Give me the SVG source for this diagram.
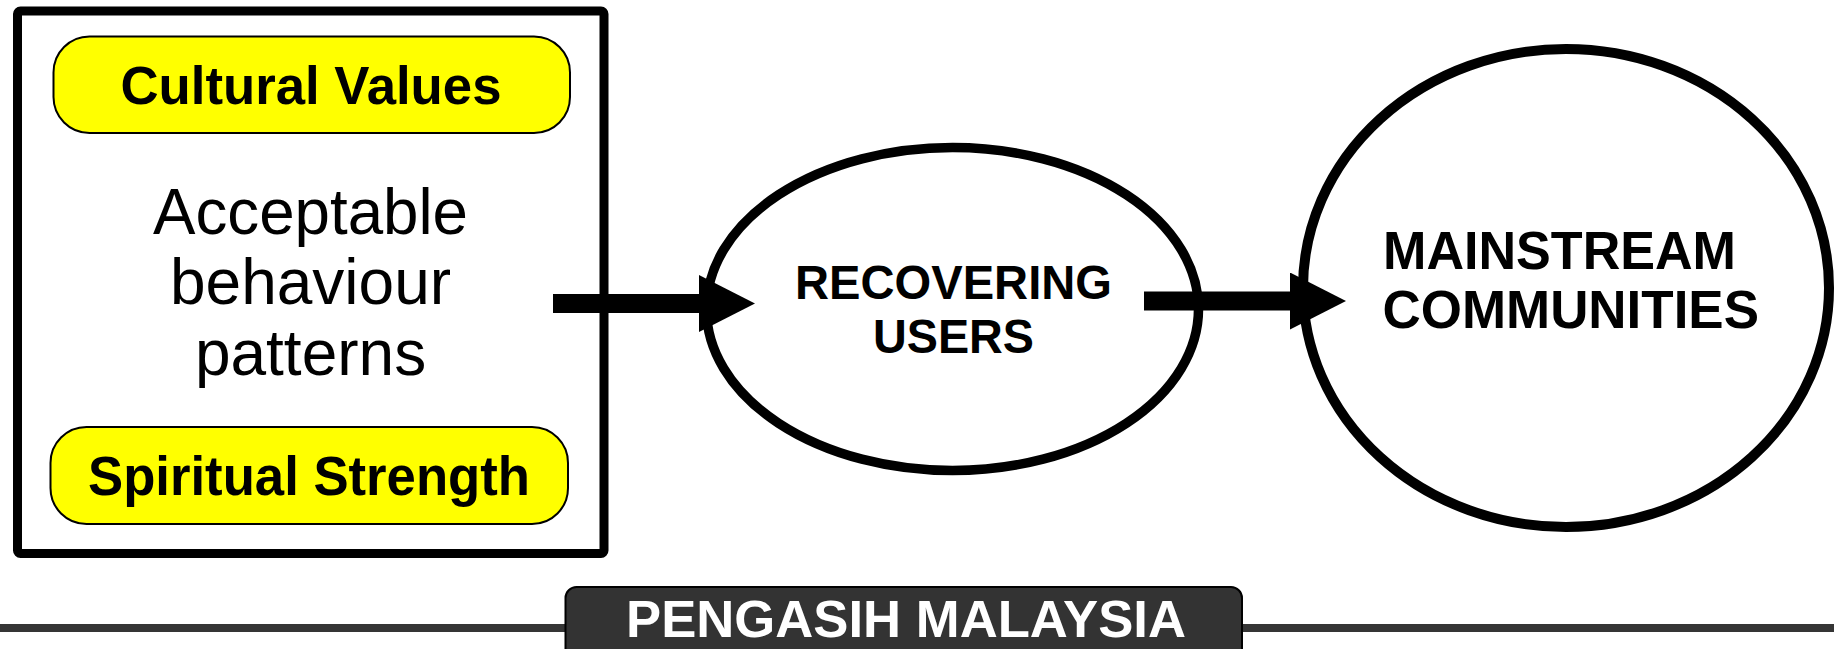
<svg xmlns="http://www.w3.org/2000/svg" width="1834" height="649" viewBox="0 0 1834 649">
<style>
  .t { font-family: "Liberation Sans", Arial, sans-serif; fill: #000; text-anchor: middle; }
  .b { font-weight: bold; }
  .pill { fill: #FFFF00; stroke: #000; stroke-width: 2; }
  .oval { fill: #fff; stroke: #000; stroke-width: 9.5; }
  .conn { stroke: #000; stroke-width: 19; fill: none; }
</style>
<defs>
  <marker id="head" markerUnits="userSpaceOnUse" viewBox="0 0 56 57" markerWidth="56" markerHeight="57" refX="0" refY="28.5" orient="auto">
    <path d="M0,0 L56,28.5 L0,57 Z" fill="#000"/>
  </marker>
</defs>
<rect width="1834" height="649" fill="#fff"/>

<g id="values-box">
  <rect x="17.5" y="11" width="586.5" height="542.5" rx="3" fill="#fff" stroke="#000" stroke-width="9"/>
</g>
<g id="cultural-values">
  <rect class="pill" x="53.5" y="36.5" width="516.5" height="96.5" rx="36"/>
  <text class="t b" x="311" y="104" font-size="54" textLength="381" lengthAdjust="spacingAndGlyphs">Cultural Values</text>
</g>
<g id="acceptable-behaviour">
  <text class="t" x="310.5" y="234" font-size="64" textLength="315" lengthAdjust="spacingAndGlyphs">Acceptable</text>
  <text class="t" x="310.5" y="304" font-size="64">behaviour</text>
  <text class="t" x="310.5" y="374.5" font-size="64">patterns</text>
</g>
<g id="spiritual-strength">
  <rect class="pill" x="50.5" y="427" width="517.5" height="97" rx="36"/>
  <text class="t b" x="309" y="495" font-size="55" textLength="442" lengthAdjust="spacingAndGlyphs">Spiritual Strength</text>
</g>

<g id="recovering-users">
  <ellipse class="oval" cx="952.5" cy="309" rx="246" ry="161.5"/>
  <text class="t b" x="953.5" y="299" font-size="48.5" textLength="317" lengthAdjust="spacingAndGlyphs">RECOVERING</text>
  <text class="t b" x="953.5" y="353" font-size="48.5" textLength="161" lengthAdjust="spacingAndGlyphs">USERS</text>
</g>

<g id="mainstream-communities">
  <ellipse cx="1566" cy="288" rx="263" ry="239" fill="#fff" stroke="#000" stroke-width="10"/>
  <text class="t b" x="1383" y="269" font-size="54.5" text-anchor="start" style="text-anchor:start" textLength="353" lengthAdjust="spacingAndGlyphs">MAINSTREAM</text>
  <text class="t b" x="1382.5" y="327.5" font-size="54.5" style="text-anchor:start" textLength="376.5" lengthAdjust="spacingAndGlyphs">COMMUNITIES</text>
</g>

<g id="connectors">
  <line class="conn" x1="553" y1="303.5" x2="699" y2="303.5" marker-end="url(#head)"/>
  <line class="conn" x1="1144" y1="301" x2="1290" y2="301" marker-end="url(#head)"/>
</g>

<g id="footer">
  <line x1="0" y1="628" x2="566" y2="628" stroke="#353535" stroke-width="8"/>
  <line x1="1242" y1="628" x2="1834" y2="628" stroke="#353535" stroke-width="8"/>
  <rect x="565.5" y="587" width="676.5" height="80" rx="11" fill="#333333" stroke="#000" stroke-width="2"/>
  <text class="t b" x="906" y="637" font-size="52" fill="#fff" style="fill:#fff" textLength="560" lengthAdjust="spacingAndGlyphs">PENGASIH MALAYSIA</text>
</g>
</svg>
